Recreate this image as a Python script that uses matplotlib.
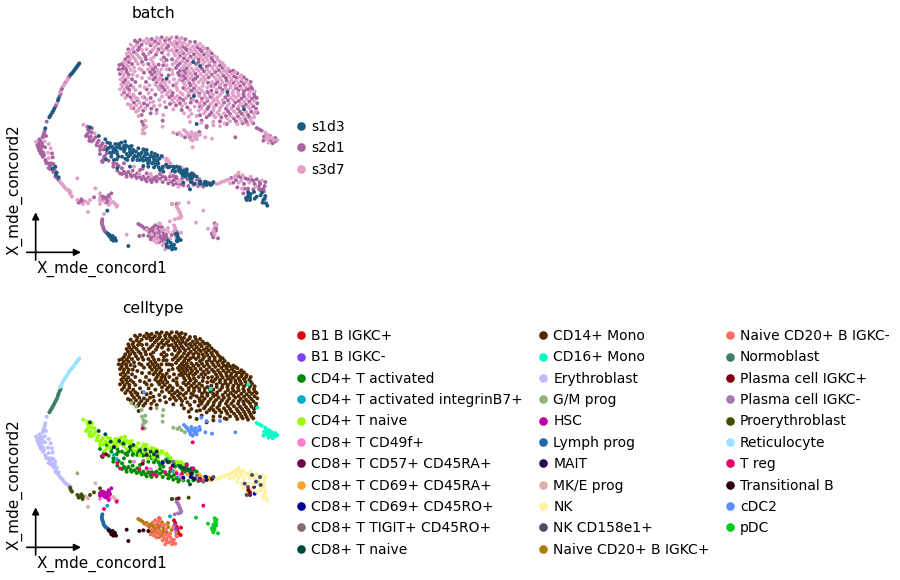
import matplotlib
matplotlib.use("Agg")
import matplotlib.pyplot as plt
from matplotlib.lines import Line2D

# Values: (embedding x, embedding y, batch index)
batches = ["s1d3", "s2d1", "s3d7"]
batch_colors = ["#1d5a80", "#a8649f", "#e0a0c8"]

celltypes = ["B1 B IGKC+", "B1 B IGKC-", "CD4+ T activated", "CD4+ T activated integrinB7+", "CD4+ T naive",
             "CD8+ T CD49f+", "CD8+ T CD57+ CD45RA+", "CD8+ T CD69+ CD45RA+", "CD8+ T CD69+ CD45RO+",
             "CD8+ T TIGIT+ CD45RO+", "CD8+ T naive", "CD14+ Mono", "CD16+ Mono", "Erythroblast", "G/M prog",
             "HSC", "Lymph prog", "MAIT", "MK/E prog", "NK", "NK CD158e1+", "Naive CD20+ B IGKC+",
             "Naive CD20+ B IGKC-", "Normoblast", "Plasma cell IGKC+", "Plasma cell IGKC-", "Proerythroblast",
             "Reticulocyte", "T reg", "Transitional B", "cDC2", "pDC"]
celltype_colors = ["#e3000b", "#7f3fff", "#008a00", "#00acc6", "#97ff00", "#ff7ed1", "#6b004f", "#ffa52f",
                   "#00009c", "#857067", "#004942", "#4f2a00", "#00ffc8", "#bcbcff", "#92b27c", "#c200a8",
                   "#1f69a9", "#2c0b4e", "#dbb0a9", "#fff29a", "#4b4a67", "#ad7d0a", "#ff6e61", "#3b7e6c",
                   "#7f000d", "#a678b0", "#3f4f00", "#9de3ff", "#e8006e", "#2d0007", "#5a8fff", "#00cc22"]

cd14_mono = [
(470,113,2),(485,112,1),(500,114,2),(515,112,2),(530,112,1),(545,114,2),(556,118,1),(440,116,2),(455,117,1),(420,120,1),
(405,122,1),(432,124,2),(448,126,2),(465,124,1),(480,125,2),(495,122,1),(510,126,2),(525,124,2),(540,125,2),(552,128,2),
(570,126,1),(585,126,1),(600,132,2),(392,134,2),(410,136,2),(425,134,1),(452,136,1),(470,136,2),(488,136,2),(505,138,1),
(520,136,2),(535,138,2),(548,140,1),(562,136,2),(578,140,2),(592,142,1),(608,140,2),(622,146,1),(385,148,1),(398,148,2),
(414,150,1),(458,150,2),(476,148,1),(492,150,2),(515,150,2),(530,152,1),(545,154,2),(560,150,1),(575,154,2),(590,156,2),
(605,154,1),(620,158,2),(635,160,1),(380,162,2),(394,164,2),(410,162,2),(430,162,1),(446,162,2),(468,164,1),(505,164,2),
(525,166,2),(540,168,1),(556,166,2),(572,170,1),(588,172,2),(602,168,2),(618,172,2),(634,174,1),(650,172,2),(376,178,1),
(390,178,2),(404,176,2),(422,176,2),(438,178,1),(452,178,2),(484,178,2),(500,180,1),(530,182,2),(546,184,2),(562,182,1),
(580,186,0),(596,186,1),(612,186,2),(628,188,2),(644,188,1),(660,186,2),(674,198,2),(358,195,1),(366,192,1),(380,194,2),
(396,192,1),(414,192,2),(430,194,2),(445,192,1),(462,194,2),(518,194,2),(534,196,1),(552,198,2),(566,196,2),(600,198,0),
(620,200,1),(636,202,2),(652,202,2),(668,204,1),(684,206,2),(700,212,1),(356,208,1),(366,208,1),(378,208,1),(392,210,2),
(444,208,2),(458,208,1),(472,210,2),(540,212,1),(552,212,1),(564,214,2),(580,212,2),(596,212,2),(612,214,1),(628,216,2),
(646,216,1),(664,218,2),(680,220,2),(696,222,2),(712,220,1),(724,226,2),(360,222,1),(372,224,2),(386,224,1),(456,224,1),
(470,224,2),(484,226,1),(538,226,1),(550,228,1),(562,226,2),(576,228,2),(592,230,1),(610,230,2),(626,232,1),(642,230,2),
(660,234,2),(678,234,1),(694,236,2),(710,234,1),(726,238,2),(740,240,1),(362,238,2),(376,240,1),(396,238,1),(460,238,1),
(474,240,2),(488,240,1),(500,236,0),(548,242,1),(564,242,2),(580,240,1),(596,246,2),(652,246,1),(668,248,2),(684,250,2),
(700,248,1),(716,250,2),(732,252,1),(748,254,2),(364,254,2),(378,254,2),(392,256,1),(466,254,2),(482,256,1),(496,254,2),
(556,256,2),(572,256,1),(588,258,2),(640,260,2),(660,262,1),(676,264,2),(692,262,2),(708,264,1),(724,266,2),(740,268,1),
(756,266,1),(360,268,2),(374,270,2),(388,270,1),(440,268,1),(478,268,2),(494,270,1),(510,272,2),(558,270,2),(574,272,1),
(590,274,2),(606,272,2),(622,276,1),(650,276,1),(666,278,2),(682,276,0),(698,280,2),(714,278,2),(730,282,1),(746,284,2),
(762,282,1),(366,284,2),(382,286,1),(400,284,2),(466,284,1),(500,284,2),(516,286,1),(532,288,2),(566,286,1),(582,288,0),
(598,288,2),(614,290,2),(632,290,1),(676,292,1),(692,294,2),(708,292,2),(724,296,1),(740,298,2),(756,296,1),(770,294,1),
(384,312,2),(396,300,2),(412,300,1),(440,298,2),(516,300,2),(534,302,2),(550,300,1),(590,304,1),(606,304,2),(622,302,1),
(640,304,2),(656,308,2),(672,308,1),(688,310,2),(706,308,1),(722,312,2),(738,314,1),(754,312,2),(772,310,1),(392,316,2),
(408,316,2),(424,318,2),(442,316,1),(462,318,2),(528,316,1),(546,318,2),(562,322,1),(608,318,2),(626,320,1),(642,322,2),
(660,324,2),(678,326,1),(694,326,2),(714,326,1),(732,328,0),(750,326,2),(768,326,1),(414,332,2),(430,332,1),(470,330,1),
(596,332,2),(616,334,2),(634,338,1),(652,338,2),(672,340,2),(690,342,1),(710,342,2),(726,342,1),(744,344,1),(762,342,2),
(736,358,1),(752,358,2),(720,356,2),(702,356,1),(682,356,2),(664,352,1),(646,352,2),(620,352,1),(728,370,1),(744,374,2),
(760,370,1),(712,372,2),(680,372,1),(640,376,2),(620,382,1),(590,372,0),(570,366,2),
(478,118,2),(508,119,1),(537,118,2),(446,120,2),(412,128,1),(440,130,2),(458,130,2),(476,130,1),(497,130,2),(516,131,2),
(530,130,1),(546,133,2),(568,131,2),(588,134,2),(614,146,2),(400,142,2),(418,142,1),(464,142,2),(484,143,2),(500,144,1),
(526,144,2),(541,146,2),(556,145,1),(570,147,2),(584,148,2),(600,148,1),(628,152,2),(388,156,2),(402,156,1),(452,156,1),
(472,156,2),(486,158,1),(522,158,2),(536,160,2),(550,160,1),(566,160,2),(582,163,1),(596,163,2),(612,164,1),(626,166,2),
(642,167,2),(384,170,1),(398,170,2),(416,170,2),(436,170,1),(460,172,2),(492,172,1),(535,174,2),(552,175,1),(566,176,2),
(580,178,2),(596,178,1),(608,178,2),(622,180,2),(638,181,1),(654,180,2),(668,190,2),(372,186,2),(386,186,1),(408,184,2),
(426,186,1),(458,186,2),(492,186,2),(525,188,2),(540,190,1),(556,190,2),(572,190,2),(588,192,1),(608,193,2),(628,195,1),
(644,195,2),(660,196,1),(680,213,2),(690,214,1),(706,216,2),(371,200,1),(386,200,2),(402,202,2),(452,200,2),(466,202,1),
(528,204,1),(546,205,2),(560,205,1),(574,205,2),(590,206,2),(606,206,1),(622,208,2),(640,209,2),(656,210,1),(672,212,2),
(365,215,2),(380,216,1),(398,224,2),(450,216,1),(464,216,1),(478,218,2),(534,219,1),(546,220,2),(558,220,1),(572,220,2),
(586,221,1),(602,222,2),(620,224,2),(636,224,1),(654,226,2),(670,227,1),(686,228,2),(702,229,1),(718,232,2),(732,232,1),
(370,232,2),(384,232,2),(466,232,1),(480,233,2),(494,245,2),(544,235,2),(556,235,1),(570,235,2),(586,236,1),(604,238,2),
(648,238,2),(664,241,2),(680,242,1),(692,243,2),(708,242,2),(724,244,1),(738,246,2),(752,246,1),(370,247,1),(385,247,2),
(470,247,1),(484,248,2),(552,249,2),(568,249,1),(582,250,2),(646,253,1),(660,255,2),(676,257,1),(692,255,2),(706,257,2),
(720,258,1),(736,260,2),(752,260,1),(368,261,2),(382,262,1),(474,261,2),(488,262,1),(502,262,2),(550,264,1),(566,264,2),
(582,265,1),(598,266,2),(650,268,2),(668,270,1),(684,270,2),(700,272,2),(716,271,1),(732,274,1),(750,275,2),(764,274,2),
(372,277,1),(388,278,2),(486,277,2),(504,278,2),(518,279,1),(566,279,2),(582,280,2),(598,281,1),(614,281,2),(630,283,1),
(660,285,2),(684,285,1),(700,287,2),(716,286,2),(732,289,1),(748,290,2),(764,289,1),(376,294,2),(392,292,1),(406,292,2),
(508,292,1),(524,294,2),(540,295,1),(558,294,2),(574,296,1),(606,296,1),(622,296,2),(640,297,2),(668,300,2),(684,301,1),
(700,301,2),(716,303,1),(732,305,2),(748,305,1),(764,304,2),(402,308,1),(418,308,2),(432,310,1),(450,308,2),(522,308,2),
(540,310,1),(556,310,2),(598,311,2),(614,311,1),(632,312,2),(648,315,1),(666,316,2),(682,318,2),(700,318,1),(716,319,2),
(730,320,1),(744,320,2),(760,319,1),(400,325,1),(418,325,2),(436,325,2),(454,326,1),(604,326,2),(622,327,1),(640,330,2),
(658,331,2),(684,334,1),(702,334,2),(720,335,1),(738,336,2),(754,335,1),(768,334,2),(628,345,1),(658,345,2),(678,348,1),
(694,349,2),(714,349,1),(732,350,2),(748,351,1),(762,352,2),(690,364,2),(708,364,1),(724,364,2),(740,366,1),(755,365,2),
(404,214,2),(418,206,2),(432,218,1),(412,228,2),(426,234,2),(438,246,1),(406,246,1),(420,258,2),(434,262,2),(406,270,2),
(420,280,1),(446,280,2),(428,292,2),(452,294,1),(478,300,2),(494,306,2),(510,312,1),(480,316,2),(498,322,1),(520,328,2),
(545,330,1),(570,330,2),(584,320,2),(572,308,1),(574,342,2),(452,340,1),(416,348,2),(400,262,2),(412,296,2),(500,196,2),
(508,208,1),(518,222,2),(506,226,1),(522,238,2),(508,246,2),(520,256,1),(532,270,2),(530,250,2),(542,278,2),(516,178,1),
(500,208,2),(490,196,1),(476,194,1),(484,208,2),(425,210,2),(610,248,2),(624,248,1),(636,246,2),(608,258,2),(622,262,2),
(634,272,1),(640,284,2),(652,292,2),(650,300,2),(612,340,2),(600,346,1),(590,348,2),(640,365,2),(660,364,1),(605,362,1),
(566,350,2),(552,340,2),(440,148,2),(426,150,2),(506,152,2),(516,210,2),(448,234,2),(448,256,2),(455,270,2),(460,305,2),
(486,290,2),(538,240,2),(530,262,2),(616,238,2),(634,258,1),(548,284,2),(580,300,2),(600,320,1),(640,345,2),(674,370,2),
]
cd16_mono = [(770,384,1),(785,392,1),(796,398,2),(792,410,1),(804,405,2),(815,412,2),(826,414,1),(832,420,2),(812,422,1),
(800,418,2),(806,428,2),(818,430,1),(790,422,1),(745,268,1),(632,282,2),(772,338,1),(778,388,1),(798,408,1),(808,415,2),(820,420,2),(826,424,1),(800,410,2),(810,408,1)]
erythroblast = [(140,365,1),(136,385,0),(132,400,1),(128,412,1),(118,418,1),(108,425,2),(116,430,1),(126,430,1),(134,424,2),(146,432,2),
(114,440,1),(122,445,1),(135,442,1),(152,445,2),(118,452,1),(130,458,1),(144,458,2),(156,460,1),(128,470,1),(136,480,1),
(146,474,2),(158,472,1),(140,490,1),(150,498,1),(160,492,1),(152,508,1),(166,500,0),(160,516,1),(170,518,0),(166,530,1),
(176,540,1),(184,550,2),(192,560,2),(200,568,2),(208,572,2),(138,408,1),(125,462,1),
(134,393,1),(130,406,1),(122,424,1),(112,435,1),(120,436,1),(128,438,1),(116,446,1),(124,452,1),(122,460,1),(132,466,1),(138,486,1),
(146,490,1),(155,490,1),(146,504,1),(158,506,0),(164,510,1),(168,524,0),(172,535,1),(180,546,2),(188,554,2),(196,564,2),(204,570,2),(212,576,2),(176,532,0)]
gm_prog = [(394,324,2),(408,335,2),(425,345,1),(436,362,2),(430,375,1),(438,380,2),(428,390,2),(434,400,2),(470,340,2),(490,345,2),(488,362,1),
(520,398,2),(532,402,1),(545,406,2),(555,412,1),(232,535,2),(488,380,2),(432,384,2),(426,365,1),(538,398,2)]
hsc = [(300,595,2),(310,590,1),(318,600,1),(326,586,1),(330,598,2),(322,608,1),(312,604,2),(306,598,1),(334,580,1),(316,594,1),(326,615,2),
(304,590,1),(312,597,1),(320,593,1),(325,602,1),(317,607,1),(328,592,1),(300,602,2)]
lymph_prog = [(307,658,1),(306,670,1),(309,680,1),(312,690,1),(318,697,1),(325,702,0),(330,706,0),(306,664,1),(307,675,1),(310,685,1),(315,694,1),(322,700,0)]
transitional_b = [(330,710,0),(338,708,0),(345,714,0),(334,718,0),(340,722,0),(348,722,0),(380,704,2),(385,738,0),(418,708,1),(430,706,1),(445,708,1),(326,706,0),(340,714,0)]
naive_cd20_pos = [(415,672,1),(428,680,1),(440,684,1),(455,686,1),(472,688,1),(486,682,1),(448,696,1),(462,700,1),(476,696,1),(490,700,1),(504,684,2),
(455,712,1),(470,714,1),(486,712,1),(500,712,1),(478,726,1),(515,705,1),(505,696,2),(422,676,1),(434,686,1),(446,690,1),(458,692,1),(482,692,1),(464,708,1),(478,706,1),(492,708,1),(484,720,1),(470,700,1)]
naive_cd20_neg = [(466,676,1),(480,672,2),(440,690,2),(468,692,2),(494,690,2),(520,696,2),(456,704,2),(472,706,2),(498,704,1),(462,722,2),(476,720,2),
(490,724,1),(488,736,2),(500,732,0),(512,728,0),(522,734,0),(506,742,0),(516,748,0),(526,746,0),(496,748,2),(532,724,0),(528,712,2),
(460,682,1),(476,680,1),(486,690,2),(452,718,1),(466,716,2),(480,712,1),(494,718,1),(504,722,0),(514,738,0),(500,740,0),(492,730,2),(520,744,0),(470,728,2),(510,716,2)]
b1_pos = [(530,695,1),(532,708,0),(536,716,0),(526,684,2),(522,676,2),(543,698,2),(478,670,2),(542,720,0),(532,702,0),(534,712,0)]
b1_neg = [(524,690,2),(527,702,0),(530,722,0)]
plasma_neg = [(530,620,2),(536,630,2),(540,640,2),(544,650,2),(534,655,2),(524,658,2),(533,625,2),(538,635,2),(542,645,2),(540,654,2)]
pdc = [(644,670,1),(650,674,2),(646,682,1),(640,690,2),(648,692,1),(636,700,1),(644,704,2),(640,712,1),(588,668,2),(624,686,2),(654,715,1),(646,676,2),(644,688,1),(642,697,2),(648,684,1),(638,706,1)]
proerythroblast = [(210,578,1),(216,590,2),(232,600,2),(240,605,1),(248,612,2),(244,598,1),(270,600,2),(282,592,1),(300,580,2),(566,608,2),(516,612,1),(236,608,1),(248,604,1),(212,584,2)]
mke_prog = [(256,604,2),(264,610,2),(264,636,2),(286,565,2),(340,606,2),(345,612,2),(352,616,2)]
normoblast = [(182,282,1),(176,295,0),(172,308,2),(166,320,1),(160,332,0),(154,342,1),(148,352,0),(179,288,1),(174,301,0),(169,314,1),(163,326,0),(157,337,0),(151,347,0)]
reticulocyte = [(238,190,0),(233,197,0),(228,204,0),(222,212,0),(216,220,0),(209,228,1),(203,238,2),(196,248,1),(190,258,2),(184,270,1),
(236,193,0),(231,200,0),(225,208,0),(219,216,0),(212,224,0),(206,233,1),(200,243,2),(193,253,2),(187,264,1),(180,276,2)]
cdc2 = [(552,390,2),(562,400,2),(574,396,2),(570,412,1),(582,408,2),(590,418,2),(578,422,2),(600,404,2),(604,368,2),(620,378,1),(636,416,2),(660,378,2),(706,412,1),(432,292,1),(616,412,2),(598,396,1),
(566,406,2),(576,404,2),(586,400,2),(572,418,2),(584,414,2),(558,396,2),(592,408,2)]
cd4_activated = [
(308,486,1),(334,470,0),(352,462,0),(320,450,0),(372,490,1),(382,480,0),(400,474,0),(425,476,0),(448,482,0),(468,494,0),
(488,500,0),(356,498,1),(372,515,1),(385,516,1),(398,512,1),(412,520,1),(430,530,1),(445,532,1),(462,534,1),(480,536,1),
(498,538,1),(515,545,1),(530,550,1),(545,520,0),(556,530,0),(570,534,0),(582,525,0),(540,508,0),(560,515,0),(420,510,1),(480,522,1),(490,515,0),
(340,490,1),(390,500,0),(454,530,2),(510,530,1),(525,515,0),(575,540,1),(366,505,1),(378,522,1),(392,524,1),(404,526,1),(418,530,1),(436,538,1),(452,540,1),
(470,530,1),(488,530,1),(506,540,2),(522,540,1),(538,554,1),(552,512,0),(568,526,0),(578,532,0),(548,526,0),(366,470,0),(392,464,0),(412,470,0),(440,476,0),(456,490,0),(476,502,0),(350,478,0),(376,476,0),
(300,462,1),(312,474,1),(326,482,1),(340,500,1),(352,512,1),(366,522,1),(380,530,1),(395,530,1),(410,534,1),(425,538,1),(440,544,1),(455,546,1),(470,544,1),(488,546,1),(505,550,1),(520,554,1),
(535,560,2),(550,556,1),(565,558,1),(580,556,2),(595,558,1),(610,560,1),(335,460,0),(355,470,0),(385,470,0),(398,480,0),(412,480,0),(430,482,0),(445,500,0),(462,502,0),(480,510,0),(498,494,0),(510,500,0),(522,505,0),(535,510,0),(548,515,0),(560,525,0),(575,528,0),(590,530,0),(600,545,0),(615,545,0),(628,550,0)]
cd4_naive = [(262,380,1),(268,395,1),(258,408,1),(272,410,1),(284,400,2),(280,420,1),(296,422,1),(304,436,1),(316,440,1),(330,430,0),(346,432,0),(364,428,0),
(378,436,0),(320,460,1),(300,450,1),(340,450,0),(362,446,0),(390,448,0),(408,455,0),(425,458,0),(442,462,0),(460,470,0),(478,476,0),
(498,480,2),(512,490,2),(380,462,0),(405,468,0),(432,470,0),(460,488,0),(538,502,0),(552,508,2),(268,422,1),(250,374,2),(290,436,1),
(264,388,1),(276,385,1),(262,402,1),(276,398,1),(268,412,1),(286,412,1),(274,424,1),(292,428,1),(310,448,1),(308,430,1),(326,444,0),(336,440,0),(352,442,0),(372,438,0),
(314,468,1),(330,458,0),(350,454,0),(372,454,0),(398,458,0),(416,462,0),(436,454,0),(452,468,0),(470,482,0),(488,472,2),(505,482,2),(420,480,0),(446,476,0),(444,490,0),(475,490,0),(530,500,0),(544,502,2),(300,440,1),(322,428,0),
(345,445,0),(375,425,0),(375,446,0),(395,438,0),(415,445,0),(440,450,0),(465,462,0),(485,468,0),(500,476,2),(356,432,0),(386,440,0),(430,448,0),(455,458,0),(472,466,0)]
cd8_naive = [(270,382,0),(296,408,0),(316,418,0),(332,440,0),(370,446,0),(400,450,0),(420,466,0),(452,470,0),(472,484,0),(505,502,0),(540,516,0),(560,508,0),(575,520,0),
(570,568,0),(530,612,1),(358,438,0),(390,456,0),(436,464,0),(462,478,0),(552,520,0),(565,524,0)]
treg = [(308,482,1),(352,504,0),(360,520,1),(418,522,2),(440,520,1),(468,540,1),(512,520,2),(530,535,1),(560,510,2),(580,520,2),(600,556,2),(610,632,2),(350,620,2),(578,442,2),(428,400,2),(312,642,2),(458,538,1),(496,532,1),(546,536,1)]
cd4_b7 = [(342,480,0),(350,492,1),(505,488,2),(520,528,1),(536,546,2),(510,664,2),(322,632,0)]
cd49f = [(402,500,2),(452,522,2),(540,542,2),(548,552,1),(330,610,2),(300,612,2)]
cd57 = [(306,484,1),(440,480,0),(502,500,0),(580,550,0),(745,590,0),(750,600,0),(762,576,0)]
cd69_ra = [(528,530,1),(590,548,2),(602,545,1),(612,552,0),(625,548,2),(632,555,0),(562,538,1),(598,538,1)]
cd69_ro = [(550,548,0),(572,546,0),(584,552,0),(600,552,0),(618,546,0),(764,596,0),(488,504,0)]
tigit = [(430,498,0),(520,500,0),(590,542,1),(640,548,2),(610,558,1)]
mait = [(342,456,0),(470,470,0),(518,512,0),(574,536,0),(620,555,0),(636,552,0)]
nk = [(650,552,2),(664,546,2),(680,540,2),(694,534,1),(708,526,2),(716,518,2),(722,532,1),(736,535,1),(752,530,2),(770,538,1),(786,542,2),(796,546,1),
(700,548,1),(716,548,2),(732,552,1),(748,548,2),(764,552,1),(780,552,1),(794,558,1),(712,562,1),(726,566,2),(744,566,1),(760,568,1),(778,568,1),(792,574,1),(796,588,0),
(782,586,0),(790,600,0),(798,610,0),(770,590,0),(730,580,1),(752,582,0),(738,594,0),(802,617,0),(658,550,2),(672,544,2),(688,538,2),(702,532,2),(714,528,1),(728,526,2),
(744,538,1),(760,542,1),(690,550,2),(708,540,1),(724,542,2),(776,560,1),(790,566,1),(786,578,0),(794,596,0),(788,608,0)]
nk_cd158 = [(756,540,1),(780,546,1),(768,560,2),(734,566,1),(744,576,0),(782,570,1),(640,546,0),(740,600,0)]
plasma_cell_pos = [(318,478,0),(428,506,1),(745,585,0),(750,592,0),(516,612,2),(536,610,2)]

groups = [b1_pos, b1_neg, cd4_activated, cd4_b7, cd4_naive, cd49f, cd57, cd69_ra, cd69_ro, tigit, cd8_naive,
          cd14_mono, cd16_mono, erythroblast, gm_prog, hsc, lymph_prog, mait, mke_prog, nk, nk_cd158,
          naive_cd20_pos, naive_cd20_neg, normoblast, plasma_cell_pos, plasma_neg, proerythroblast,
          reticulocyte, treg, transitional_b, cdc2, pdc]

xs, ys, bs, cs = [], [], [], []
for i, g in enumerate(groups):
    for x, y, b in g:
        xs.append(x); ys.append(y); bs.append(b); cs.append(i)

plt.rcParams["font.family"] = "DejaVu Sans"
fig = plt.figure(figsize=(9, 5.8), dpi=100)


def panel(bottom_px, top_px, title, title_x, colors, names, swatches, ncol, legend_y, order):
    h = top_px - bottom_px
    ax = fig.add_axes([0, 1 - top_px / 580, 300 / 900, h / 580])
    ax.set_xlim(0, 900)
    ax.set_ylim(h * 3, 0)
    ax.axis("off")
    ax.scatter([xs[i] for i in order], [ys[i] for i in order], c=[colors[i] for i in order],
               s=8, linewidths=0, zorder=2)
    ax.annotate("", xy=(243, 757), xytext=(80, 757),
                arrowprops=dict(arrowstyle="-|>", color="k", lw=1.2, shrinkA=0, shrinkB=0))
    ax.annotate("", xy=(107, 637), xytext=(107, 780),
                arrowprops=dict(arrowstyle="-|>", color="k", lw=1.2, shrinkA=0, shrinkB=0))
    ax.text(305, 806, "X_mde_concord1", ha="center", va="center", fontsize=11)
    ax.text(42, 570, "X_mde_concord2", ha="center", va="center", rotation=90, fontsize=11)
    ax.text(title_x, 42, title, ha="center", va="center", fontsize=11.2)
    handles = [Line2D([], [], ls="", marker="o", ms=6.2, mec="none", mfc=c) for c in swatches]
    ax.legend(handles, names, ncol=ncol, frameon=False, fontsize=10, loc="upper left",
              bbox_to_anchor=(0.328, 1 - legend_y / 580), bbox_transform=fig.transFigure,
              labelspacing=0.53, handlelength=0.85, handletextpad=0.3, columnspacing=1.03,
              borderpad=0, borderaxespad=0)
    return ax


n = len(xs)
draw_rank = {1: 0, 2: 1, 0: 2}
top_order = sorted(range(n), key=lambda i: draw_rank[bs[i]])
panel(0, 290, "batch", 460, [batch_colors[b] for b in bs], batches, batch_colors, 1, 120, top_order)
panel(295, 580, "celltype", 458, [celltype_colors[c] for c in cs], celltypes, celltype_colors, 3, 329, list(range(n)))

fig.savefig("out.png", dpi=100)
